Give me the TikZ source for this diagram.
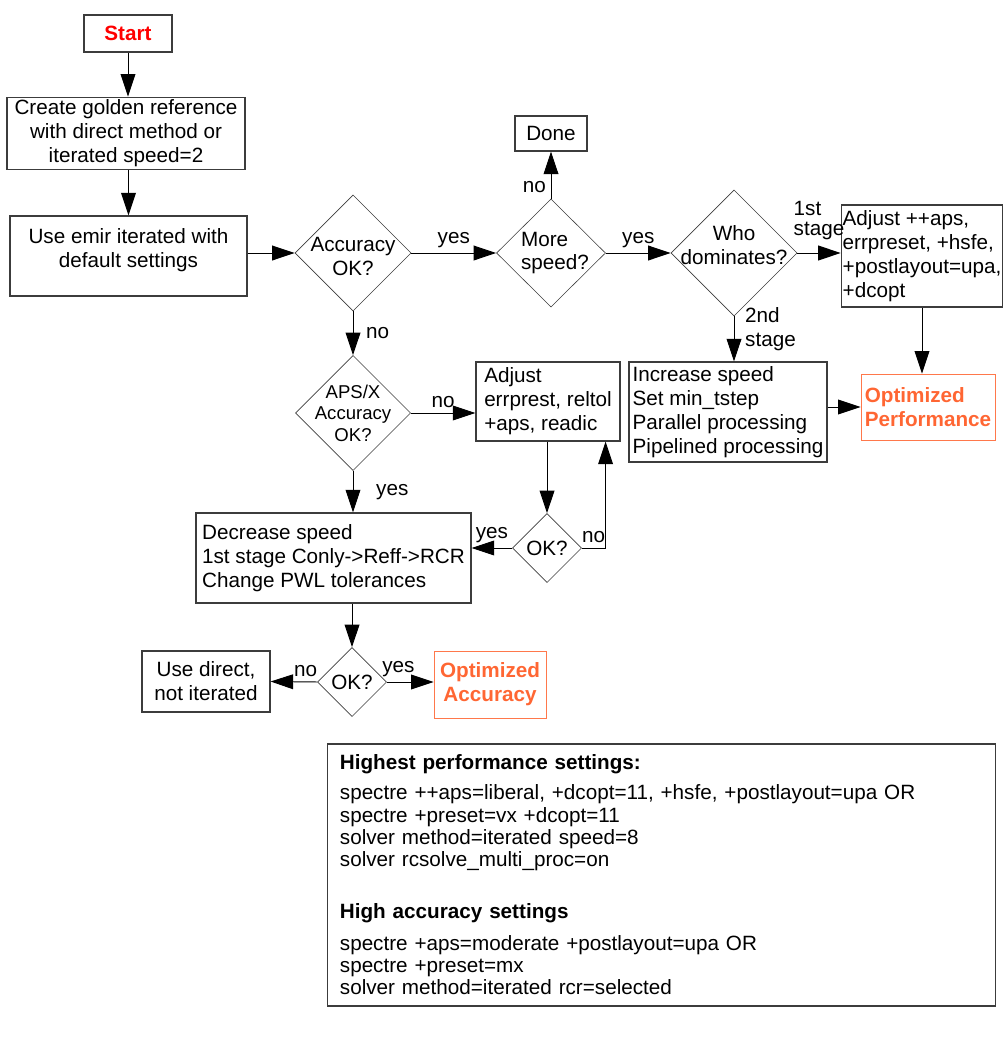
\documentclass[tikz,border=0pt]{standalone}
\usepackage{fontspec}
\setmainfont{Liberation Sans}
\usetikzlibrary{arrows.meta}
\usetikzlibrary{shapes.geometric}

\begin{document}
\begin{tikzpicture}[x=0.025cm,y=-0.025cm,font=\fontsize{14.7}{17}\selectfont,
    box/.style={draw=dgray,line width=0.8pt,inner sep=2pt},
    dec/.style={diamond,draw=dgray,line width=0.4pt,inner sep=0pt},
    arr/.style={-{Triangle[length=16pt,width=10.5pt]},line width=0.7pt,draw=black},
    bold/.style={font=\fontsize{14.7}{17}\selectfont\bfseries}]
\definecolor{dgray}{RGB}{60,60,60}
\definecolor{sred}{RGB}{255,0,0}
\definecolor{otext}{RGB}{255,102,51}
\definecolor{oline}{RGB}{255,120,75}

\useasboundingbox (0,0) rectangle (1007,1057);

% main column
\node[box,bold,text=sred,minimum width=2.2cm,minimum height=0.925cm] (st) at (128,33.5) {Start};
\node[box,align=center,minimum width=5.95cm,minimum height=1.775cm] (gr) at (126,133.5) {Create golden reference\\with direct method or\\iterated speed=2};
\node[box,minimum width=5.925cm,minimum height=2cm,label={[align=center,yshift=0.15cm]center:Use emir iterated with\\default settings}] (em) at (128.5,256) {};

\node[dec,minimum size=2.9cm,label={[align=center,yshift=-0.08cm]center:Accuracy\\OK?}] (acc) at (353,253) {};
\node[dec,minimum width=2.725cm,minimum height=2.7cm,label={[align=left,xshift=0.1cm]center:More\\speed?}] (more) at (551,253) {};
\node[box,minimum width=1.8cm,minimum height=0.875cm] (dn) at (551,133.5) {Done};
\node[dec,minimum size=3.15cm,label={[align=center,yshift=0.2cm]center:Who\\dominates?}] (who) at (734,253) {};

\node[box,align=left,inner xsep=1pt,minimum width=3.95cm,minimum height=2.55cm] (adj) at (922,256) {Adjust ++aps,\\errpreset, +hsfe,\\+postlayout=upa,\\+dcopt};
\node[box,align=left,minimum width=4.95cm,minimum height=2.5cm] (inc) at (728,412) {Increase speed\\Set min\_tstep\\Parallel processing\\Pipelined processing};
\node[box,bold,draw=oline,line width=0.6pt,text=otext,align=left,minimum width=3.35cm,minimum height=1.65cm] (opp) at (928,407) {Optimized\\Performance};

% accuracy branch
\node[dec,minimum size=2.875cm,label={[align=center,font=\fontsize{13.2}{15.3}\selectfont]center:APS/X\\Accuracy\\OK?}] (aps) at (353,413) {};
\node[box,align=left,minimum width=3.6cm,minimum height=1.975cm] (adr) at (548,401.5) {Adjust\\errprest, reltol\\+aps, readic};
\node[dec,minimum size=1.725cm] (ok1) at (547,548) {OK?};
\node[box,align=left,minimum width=6.875cm,minimum height=2.25cm] (dec) at (333.5,558) {Decrease speed\\1st stage Conly->Reff->RCR\\Change PWL tolerances};
\node[dec,minimum size=1.725cm] (ok2) at (352,682) {OK?};
\node[box,align=center,minimum width=3.2cm,minimum height=1.525cm] (ud) at (206,681.5) {Use direct,\\not iterated};
\node[box,bold,draw=oline,line width=0.6pt,text=otext,align=center,minimum width=2.8cm,minimum height=1.675cm] (opa) at (490,684.5) {Optimized\\Accuracy};

% settings
\node[draw=dgray,line width=0.8pt,inner xsep=0.3cm,text width=16.075cm,minimum height=6.55cm,align=left,font=\fontsize{14.7}{15.9}\selectfont] (set) at (661.5,875) {\textbf{Highest performance settings:}\\[5.4pt]
spectre ++aps=liberal, +dcopt=11, +hsfe, +postlayout=upa OR\\
spectre +preset=vx +dcopt=11\\
solver method=iterated speed=8\\
solver rcsolve\_multi\_proc=on\\[20.4pt]
\textbf{High accuracy settings}\\[6.9pt]
spectre +aps=moderate +postlayout=upa OR\\
spectre +preset=mx\\
solver method=iterated rcr=selected};

\draw[arr] (st.south) -- (st.south |- gr.north);
\draw[arr] (em.north |- gr.south) -- (em.north);
\draw[arr] (em.east |- acc) -- (acc.west);
\draw[arr] (acc.east) -- (more.west) node[midway,above] {yes};
\draw[arr] (more.north) -- (dn.south) node[pos=0.25,left] {no};
\draw[arr] (more.east) -- (who.west) node[midway,above] {yes};
\draw[arr] (who.east) -- (who.east -| adj.west) node[midway,above,yshift=0.2cm,align=left,font=\fontsize{14.7}{14}\selectfont] {1st\\stage};
\draw[arr] (adj.south) -- (adj.south |- opp.north);
\draw[arr] (who.south) -- (who.south |- inc.north) node[midway,right,xshift=0.15cm,yshift=0.25cm,align=left] {2nd\\stage};
\draw[arr] (inc.east |- opp) -- (opp.west);

\draw[arr] (acc.south) -- (aps.north) node[midway,right,xshift=0.2cm] {no};
\draw[arr] (aps.east) -- (aps.east -| adr.west) node[midway,above] {no};
\draw[arr] (ok1.north |- adr.south) -- (ok1.north);
\draw[arr] (ok1.east) -| ([xshift=-0.375cm]adr.south east) node[pos=0.25,above] {no};
\draw[arr] (ok1.west) -- (ok1.west -| dec.east) node[midway,above] {yes};
\draw[arr] (aps.south) -- (aps.south |- dec.north) node[midway,right,xshift=0.45cm] {yes};
\draw[arr] (ok2.north |- dec.south) -- (ok2.north);
\draw[arr] (ok2.west) -- (ud.east) node[pos=0.25,above] {no};
\draw[arr] (ok2.east) -- (ok2.east -| opa.west) node[pos=0.25,above] {yes};

\end{tikzpicture}
\end{document}
